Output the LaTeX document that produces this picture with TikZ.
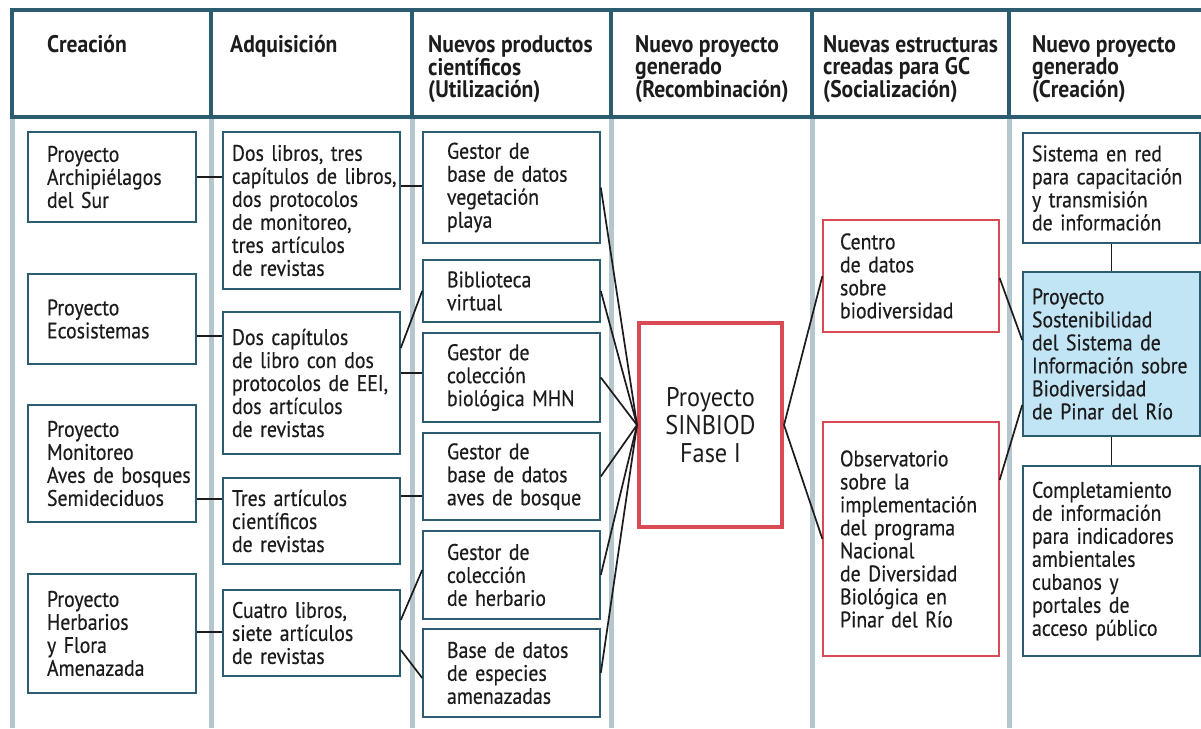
\documentclass[tikz,border=0pt]{standalone}
\usepackage{fontspec}
\setmainfont{PT Sans}[FakeStretch=0.88, FakeBold=0.4]
\newfontfamily\titrefont{PT Sans}[FakeStretch=0.9]
\usetikzlibrary{calc, positioning}
\definecolor{cadre}{RGB}{43,92,112}
\definecolor{gris}{RGB}{182,198,206}
\definecolor{rouge}{RGB}{217,74,85}
\definecolor{bleu}{RGB}{194,229,246}
\definecolor{encre}{RGB}{28,28,28}

\begin{document}
\begin{tikzpicture}[x=1pt, y=-1pt]
  \tikzstyle{titre}=[anchor=north west, inner sep=0pt, align=left, text=encre,
    font=\fontsize{24}{22}\titrefont\bfseries]
  \tikzstyle{boite}=[draw=cadre, line width=1.6pt, fill=white, text=encre,
    align=left, inner xsep=4pt, inner ysep=0pt, font=\fontsize{22.5}{23}\selectfont]
  \tikzset{retrait/.style={execute at begin node={\leftskip=#1\rightskip=-#1 plus 1fil}}}
  \tikzstyle{colA}=[boite, text width=160pt, retrait=15pt]
  \tikzstyle{colB}=[boite, text width=169pt, retrait=5pt]
  \tikzstyle{colC}=[boite, text width=169pt, retrait=20pt]
  \tikzstyle{colE}=[boite, draw=rouge, line width=1.2pt, text width=168pt, retrait=13pt]
  \tikzstyle{colF}=[boite, text width=169pt, retrait=5pt]
  \tikzstyle{lien}=[draw=encre, line width=1.7pt]
  \useasboundingbox[fill=white] (0,0) rectangle (1201,728);
  % colonnes
  \foreach \x in {12,211,412,611,812,1009}
    \draw[gris, line width=5pt] (\x,117) -- (\x,728);
  \draw[cadre, line width=4pt, fill=white] (12,10) rectangle (1212,117);
  \foreach \x in {211,412,611,812,1009}
    \draw[cadre, line width=4pt] (\x,10) -- (\x,117);
  \node[titre] (t1) at (47,35) {Creación};
  \node[titre] (t2) at (230,35) {Adquisición};
  \node[titre] (t3) at (428,35) {Nuevos productos\\científicos\\(Utilización)};
  \node[titre] (t4) at (635,35) {Nuevo proyecto\\generado\\(Recombinación)};
  \node[titre] (t5) at (823,35) {Nuevas estructuras\\creadas para GC\\(Socialización)};
  \node[titre] (t6) at (1032,35) {Nuevo proyecto\\generado\\(Creación)};
  % creacion
  \node[colA, minimum height=90pt] (a1) at (112,177) {Proyecto\\Archipiélagos\\del Sur};
  \node[colA, minimum height=90pt] (a2) at (112,319) {Proyecto\\Ecosistemas};
  \node[colA, minimum height=117pt] (a3) at (112,463.5) {Proyecto\\Monitoreo\\Aves de bosques\\Semideciduos};
  \node[colA, minimum height=119pt] (a4) at (112,633.5) {Proyecto\\Herbarios\\y Flora\\Amenazada};
  % adquisicion
  \node[colB, minimum height=157pt] (b1) at (311.5,210.5) {Dos libros, tres\\capítulos de libros,\\dos protocolos\\de monitoreo,\\tres artículos\\de revistas};
  \node[colB, minimum height=142pt] (b2) at (311.5,383) {Dos capítulos\\de libro con dos\\protocolos de EEI,\\dos artículos\\de revistas};
  \node[colB, minimum height=86pt] (b3) at (311.5,521) {Tres artículos\\científicos\\de revistas};
  \node[colB, minimum height=86pt] (b4) at (311.5,633) {Cuatro libros,\\siete artículos\\de revistas};
  % utilizacion
  \node[colC, minimum height=111pt] (c1) at (511.5,187.5) {Gestor de\\base de datos\\vegetación\\playa};
  \node[colC, minimum height=62pt] (c2) at (511.5,291) {Biblioteca\\virtual};
  \node[colC, minimum height=89pt] (c3) at (511.5,377.5) {Gestor de\\colección\\biológica MHN};
  \node[colC, minimum height=87pt] (c4) at (511.5,476.5) {Gestor de\\base de datos\\aves de bosque};
  \node[colC, minimum height=88pt] (c5) at (511.5,575) {Gestor de\\colección\\de herbario};
  \node[colC, minimum height=88pt] (c6) at (511.5,673) {Base de datos\\de especies\\amenazadas};
  % recombinacion
  \node[boite, draw=rouge, line width=4pt, align=center, minimum width=143pt,
    minimum height=204pt, font=\fontsize{27}{28}\titrefont] (sinbiod) at (710.5,425)
    {Proyecto\\SINBIOD\\Fase I};
  % socializacion
  \node[colE, minimum height=112pt] (e1) at (911,276) {Centro\\de datos\\sobre\\biodiversidad};
  \node[colE, minimum height=234pt] (e2) at (911,539) {Observatorio\\sobre la\\implementación\\del programa\\Nacional\\de Diversidad\\Biológica en\\Pinar del Río};
  % creacion 2
  \node[colF, minimum height=110pt] (f1) at (1111.5,188) {Sistema en red\\para capacitación\\y transmisión\\de información};
  \node[colF, fill=bleu, minimum height=164pt] (f2) at (1111.5,354) {Proyecto\\Sostenibilidad\\del Sistema de\\Información sobre\\Biodiversidad\\de Pinar del Río};
  \node[colF, minimum height=190pt] (f3) at (1111.5,561) {Completamiento\\de información\\para indicadores\\ambientales\\cubanos y\\portales de\\acceso público};
  % liens
  \draw[lien] (a1.east) -- (b1.west |- a1.east);
  \draw[lien] (a2.east |- 0,336) -- (b2.west |- 0,336);
  \draw[lien] (a3.east |- 0,499) -- (b3.west |- 0,499);
  \draw[lien] (a4.east |- 0,632) -- (b4.west |- 0,632);
  \draw[lien] (b1.east |- 0,186) -- (c1.west |- 0,186);
  \draw[lien] (b2.east |- 0,348) -- (c2.west);
  \draw[lien] (b2.east |- 0,373) -- (c3.west |- 0,373);
  \draw[lien] (b3.east |- 0,496) -- (c4.west |- 0,496);
  \draw[lien] (b4.east |- 0,620) -- (c5.west |- 0,570);
  \draw[lien] (b4.east |- 0,650) -- (c6.west |- 0,678);
  \foreach \n in {c1,c2,c3,c4,c5,c6}
    \draw[lien] (\n.east) -- (sinbiod.west);
  \draw[lien] (sinbiod.east) -- (e1.west);
  \draw[lien] (sinbiod.east) -- (e2.west);
  \draw[lien] (e1.east |- 0,278) -- (f2.west |- 0,340);
  \draw[lien] (e2.east |- 0,480) -- (f2.west |- 0,405);
  \draw[lien] (f1.south) -- (f2.north);
  \draw[lien] (f2.south) -- (f3.north);
\end{tikzpicture}
\end{document}
